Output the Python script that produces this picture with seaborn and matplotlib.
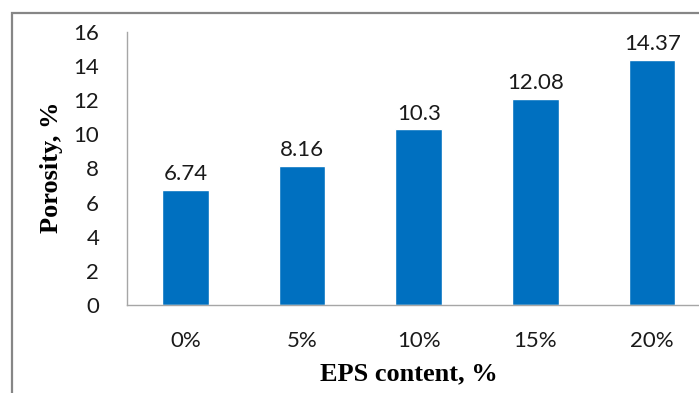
import matplotlib
matplotlib.use("Agg")
import matplotlib.pyplot as plt
from matplotlib.patches import Rectangle
import seaborn as sns
import pandas as pd

categories = ["0%", "5%", "10%", "15%", "20%"]
porosity = [6.74, 8.16, 10.3, 12.08, 14.37]
y_ticks = [0, 2, 4, 6, 8, 10, 12, 14, 16]

sns.set_theme(style="white")
plt.rcParams["font.family"] = ["Lato", "DejaVu Sans"]

W, H = 699, 393
fig = plt.figure(figsize=(W / 100, H / 100), dpi=100)

# outer chart frame (runs past the right and bottom edges)
fig.patches.append(Rectangle((12 / W, -0.1), 1.2, (H - 13) / H + 0.1,
                             transform=fig.transFigure, fill=False,
                             edgecolor="#868686", linewidth=1.6))

ax = fig.add_axes([127 / W, (H - 305) / H, 583.5 / W, 273 / H])

df = pd.DataFrame({"EPS content": categories, "Porosity": porosity})
sns.barplot(data=df, x="EPS content", y="Porosity", color="#0070C0",
            saturation=1, width=0.4, ax=ax)

ax.set_xlim(-0.5, len(categories) - 0.5)
ax.set_ylim(0, 16)
ax.set_yticks(y_ticks)
ax.set_yticklabels([str(t) for t in y_ticks], fontsize=16, color="#1a1a1a")
ax.set_xticks(range(len(categories)))
ax.set_xticklabels(categories, fontsize=16, color="#1a1a1a")
ax.set_xticks([i - 0.5 for i in range(len(categories) + 1)], minor=True)

ax.tick_params(axis="x", which="major", length=0, pad=19)
ax.tick_params(axis="x", which="minor", length=8, width=1, color="#a6a6a6",
               direction="out")
ax.tick_params(axis="y", length=9, width=1, color="#a6a6a6", direction="out",
               pad=11)

for side in ["top", "right"]:
    ax.spines[side].set_visible(False)
for side in ["left", "bottom"]:
    ax.spines[side].set_color("#a6a6a6")
    ax.spines[side].set_linewidth(1)

ax.bar_label(ax.containers[0], labels=[f"{v:g}" for v in porosity],
             fontsize=16, color="#1a1a1a", padding=4)

ax.set_xlabel("EPS content, %", family="Liberation Serif", fontweight="bold",
              fontsize=19, color="black")
ax.set_ylabel("Porosity, %", family="Liberation Serif", fontweight="bold",
              fontsize=19, color="black")
ax.xaxis.set_label_coords((409 - 127) / 583.5, -(362 - 305) / 273)
ax.yaxis.set_label_coords(-(127 - 63) / 583.5, (305 - 167) / 273)

fig.savefig("out.png", dpi=100)
